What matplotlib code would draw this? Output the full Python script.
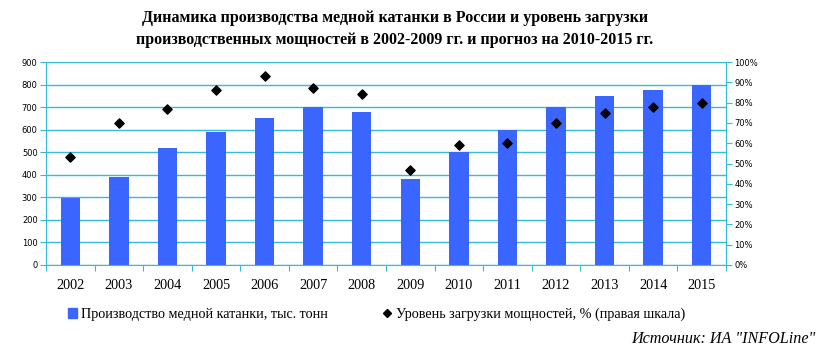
import numpy as np
import matplotlib
matplotlib.use('Agg')
import matplotlib.pyplot as plt
from matplotlib.ticker import MultipleLocator, FuncFormatter

years = [2002, 2003, 2004, 2005, 2006, 2007, 2008, 2009, 2010, 2011, 2012, 2013, 2014, 2015]
production = [295, 390, 520, 590, 650, 700, 680, 380, 500, 600, 700, 750, 775, 800]
load_pct = [53, 70, 77, 86, 93, 87, 84, 47, 59, 60, 70, 75, 78, 80]

title = ('Динамика производства медной катанки в России и уровень загрузки\n'
         'производственных мощностей в 2002-2009 гг. и прогноз на 2010-2015 гг.')
label_bar = 'Производство медной катанки, тыс. тонн'
label_dot = 'Уровень загрузки мощностей, % (правая шкала)'
source = 'Источник: ИА "INFOLine"'

axis_color = '#33BBDD'
bar_color = '#3A66FF'

fig = plt.figure(figsize=(8.25, 3.55), dpi=100)
ax = fig.add_axes([46/825, 1-265/355, 680/825, 203/355])
x = np.arange(len(years))

ax.bar(x, production, width=0.4, color=bar_color, zorder=2)
ax.set_xlim(-0.5, len(years)-0.5)
ax.set_ylim(0, 900)
ax.yaxis.set_major_locator(MultipleLocator(100))
ax.grid(axis='y', color=axis_color, linewidth=1, zorder=0)
ax.set_xticks(np.arange(-0.5, len(years), 1))
ax.set_xticklabels([])
ax.set_xticks(x, minor=True)
ax.set_xticklabels([str(y) for y in years], minor=True, family='Liberation Serif', fontsize=10.3)
ax.tick_params(axis='x', which='minor', length=0, pad=10)
ax.tick_params(axis='x', which='major', length=4, color=axis_color, direction='out')
ax.tick_params(axis='y', length=4, color=axis_color, labelsize=6, pad=2)
for s in ['top', 'right']:
    ax.spines[s].set_visible(False)
for s in ['left', 'bottom']:
    ax.spines[s].set_color(axis_color)

ax2 = ax.twinx()
ax2.scatter(x, load_pct, marker='D', s=22, color='black', zorder=3)
ax2.set_ylim(0, 100)
ax2.yaxis.set_major_locator(MultipleLocator(10))
ax2.yaxis.set_major_formatter(FuncFormatter(lambda v, p: '%d%%' % v))
ax2.tick_params(axis='y', length=4, color=axis_color, labelsize=6, pad=2)
for s in ['top', 'left', 'bottom']:
    ax2.spines[s].set_visible(False)
ax2.spines['right'].set_color(axis_color)

fig.text(395/825, 1-29/355, title, ha='center', va='center', family='Liberation Serif',
         fontsize=11.5, fontweight='bold', linespacing=1.55)

h1 = plt.Rectangle((0, 0), 1, 1, color=bar_color)
h2 = plt.Line2D([], [], marker='D', color='black', linestyle='none', markersize=4)
fig.legend([h1, h2], [label_bar, label_dot], loc='center left', bbox_to_anchor=(68/825, 1-314/355),
           ncol=2, frameon=False, prop={'family': 'Liberation Serif', 'size': 10.2},
           handlelength=0.6, handletextpad=0.35, columnspacing=3.85, borderpad=0,
           borderaxespad=0)

fig.text(815/825, 1-339/355, source, ha='right', va='center', family='Liberation Serif',
         style='italic', fontsize=11.6)

fig.savefig('out.png', dpi=100)
